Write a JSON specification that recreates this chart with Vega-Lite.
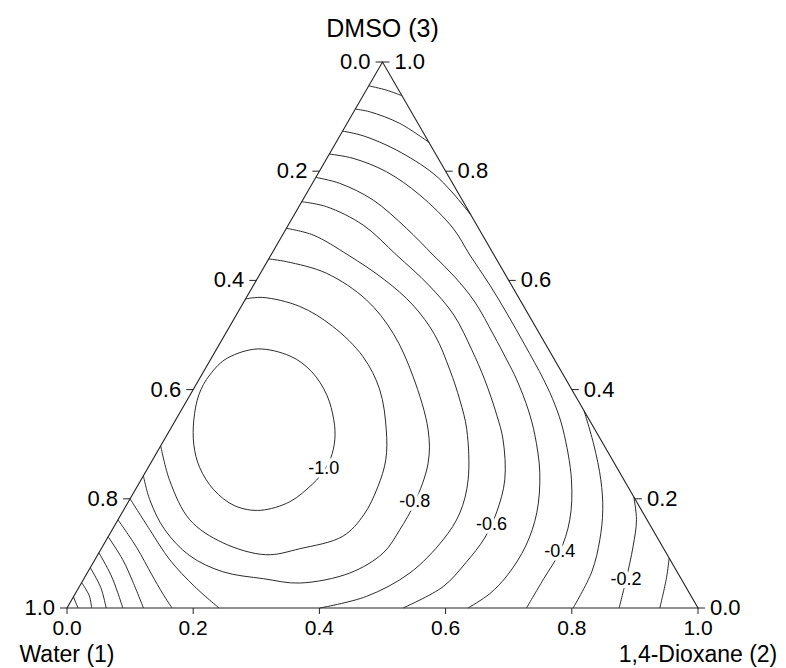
{
  "$schema": "https://vega.github.io/schema/vega-lite/v6.json",
  "width": 631,
  "height": 546,
  "autosize": {"type": "none"},
  "padding": {"left": 67, "top": 62, "right": 88, "bottom": 60},
  "background": "white",
  "config": {"view": {"stroke": null}, "font": "Liberation Sans"},
  "datasets": {
    "frame": [
      {"i": 1, "x": 0, "y": 0},
      {"i": 2, "x": 1, "y": 0},
      {"i": 3, "x": 0.5, "y": 0.866}
    ],
    "oval": [
      {"i": 1, "x": 0.3024, "y": 0.4109},
      {"i": 2, "x": 0.3531, "y": 0.3998},
      {"i": 3, "x": 0.3880, "y": 0.3745},
      {"i": 4, "x": 0.4117, "y": 0.3380},
      {"i": 5, "x": 0.4228, "y": 0.2984},
      {"i": 6, "x": 0.4244, "y": 0.2667},
      {"i": 7, "x": 0.4181, "y": 0.2382},
      {"i": 8, "x": 0.4070, "y": 0.2176},
      {"i": 9, "x": 0.3895, "y": 0.1970},
      {"i": 10, "x": 0.3531, "y": 0.1685},
      {"i": 11, "x": 0.3071, "y": 0.1550},
      {"i": 12, "x": 0.2659, "y": 0.1621},
      {"i": 13, "x": 0.2326, "y": 0.1875},
      {"i": 14, "x": 0.2105, "y": 0.2223},
      {"i": 15, "x": 0.2010, "y": 0.2588},
      {"i": 16, "x": 0.2010, "y": 0.2984},
      {"i": 17, "x": 0.2089, "y": 0.3380},
      {"i": 18, "x": 0.2263, "y": 0.3697},
      {"i": 19, "x": 0.2548, "y": 0.3967}
    ],
    "contours": [
      {"curve": "-0.9", "i": 1, "x": 0.2830, "y": 0.4902},
      {"curve": "-0.9", "i": 2, "x": 0.3103, "y": 0.4926},
      {"curve": "-0.9", "i": 3, "x": 0.3689, "y": 0.4783},
      {"curve": "-0.9", "i": 4, "x": 0.4212, "y": 0.4466},
      {"curve": "-0.9", "i": 5, "x": 0.4688, "y": 0.3990},
      {"curve": "-0.9", "i": 6, "x": 0.4957, "y": 0.3460},
      {"curve": "-0.9", "i": 7, "x": 0.5060, "y": 0.2826},
      {"curve": "-0.9", "i": 8, "x": 0.5052, "y": 0.2350},
      {"curve": "-0.9", "i": 9, "x": 0.4926, "y": 0.1922},
      {"curve": "-0.9", "i": 10, "x": 0.4704, "y": 0.1479},
      {"curve": "-0.9", "i": 11, "x": 0.4371, "y": 0.1138},
      {"curve": "-0.9", "i": 12, "x": 0.3689, "y": 0.0940},
      {"curve": "-0.9", "i": 13, "x": 0.3151, "y": 0.0845},
      {"curve": "-0.9", "i": 14, "x": 0.2469, "y": 0.1035},
      {"curve": "-0.9", "i": 15, "x": 0.1946, "y": 0.1399},
      {"curve": "-0.9", "i": 16, "x": 0.1629, "y": 0.2017},
      {"curve": "-0.9", "i": 17, "x": 0.1485, "y": 0.2572},

      {"curve": "-0.8", "i": 1, "x": 0.3196, "y": 0.5536},
      {"curve": "-0.8", "i": 2, "x": 0.3479, "y": 0.5493},
      {"curve": "-0.8", "i": 3, "x": 0.4113, "y": 0.5309},
      {"curve": "-0.8", "i": 4, "x": 0.4746, "y": 0.4886},
      {"curve": "-0.8", "i": 5, "x": 0.5168, "y": 0.4358},
      {"curve": "-0.8", "i": 6, "x": 0.5485, "y": 0.3670},
      {"curve": "-0.8", "i": 7, "x": 0.5723, "y": 0.2826},
      {"curve": "-0.8", "i": 8, "x": 0.5723, "y": 0.2298},
      {"curve": "-0.8", "i": 9, "x": 0.5512, "y": 0.1674},
      {"curve": "-0.8", "i": 10, "x": 0.5274, "y": 0.1241},
      {"curve": "-0.8", "i": 11, "x": 0.5010, "y": 0.0872},
      {"curve": "-0.8", "i": 12, "x": 0.4482, "y": 0.0555},
      {"curve": "-0.8", "i": 13, "x": 0.3689, "y": 0.0396},
      {"curve": "-0.8", "i": 14, "x": 0.3119, "y": 0.0464},
      {"curve": "-0.8", "i": 15, "x": 0.2469, "y": 0.0575},
      {"curve": "-0.8", "i": 16, "x": 0.1946, "y": 0.0829},
      {"curve": "-0.8", "i": 17, "x": 0.1550, "y": 0.1241},
      {"curve": "-0.8", "i": 18, "x": 0.1312, "y": 0.1716},
      {"curve": "-0.8", "i": 19, "x": 0.1211, "y": 0.2097},

      {"curve": "-0.7a", "i": 1, "x": 0.3477, "y": 0.6022},
      {"curve": "-0.7a", "i": 2, "x": 0.3900, "y": 0.5916},
      {"curve": "-0.7a", "i": 3, "x": 0.4455, "y": 0.5599},
      {"curve": "-0.7a", "i": 4, "x": 0.5036, "y": 0.5203},
      {"curve": "-0.7a", "i": 5, "x": 0.5480, "y": 0.4807},
      {"curve": "-0.7a", "i": 6, "x": 0.5829, "y": 0.4331},
      {"curve": "-0.7a", "i": 7, "x": 0.6067, "y": 0.3777},
      {"curve": "-0.7a", "i": 8, "x": 0.6225, "y": 0.3301},
      {"curve": "-0.7a", "i": 9, "x": 0.6336, "y": 0.2826},
      {"curve": "-0.7a", "i": 10, "x": 0.6357, "y": 0.2033},
      {"curve": "-0.7a", "i": 11, "x": 0.6225, "y": 0.1506},
      {"curve": "-0.7a", "i": 12, "x": 0.5960, "y": 0.1082},
      {"curve": "-0.7a", "i": 13, "x": 0.5433, "y": 0.0555},
      {"curve": "-0.7a", "i": 14, "x": 0.4746, "y": 0.0184},
      {"curve": "-0.7a", "i": 15, "x": 0.4006, "y": 0},

      {"curve": "-0.6a", "i": 1, "x": 0.3720, "y": 0.6444},
      {"curve": "-0.6a", "i": 2, "x": 0.4113, "y": 0.6365},
      {"curve": "-0.6a", "i": 3, "x": 0.4693, "y": 0.6074},
      {"curve": "-0.6a", "i": 4, "x": 0.5222, "y": 0.5599},
      {"curve": "-0.6a", "i": 5, "x": 0.5730, "y": 0.5124},
      {"curve": "-0.6a", "i": 6, "x": 0.6130, "y": 0.4648},
      {"curve": "-0.6a", "i": 7, "x": 0.6415, "y": 0.4094},
      {"curve": "-0.6a", "i": 8, "x": 0.6621, "y": 0.3618},
      {"curve": "-0.6a", "i": 9, "x": 0.6810, "y": 0.3063},
      {"curve": "-0.6a", "i": 10, "x": 0.6911, "y": 0.2667},
      {"curve": "-0.6a", "i": 11, "x": 0.6938, "y": 0.2033},
      {"curve": "-0.6a", "i": 12, "x": 0.6811, "y": 0.1526},
      {"curve": "-0.6a", "i": 13, "x": 0.6621, "y": 0.1114},
      {"curve": "-0.6a", "i": 14, "x": 0.6320, "y": 0.0718},
      {"curve": "-0.6a", "i": 15, "x": 0.5960, "y": 0.0338},
      {"curve": "-0.6a", "i": 16, "x": 0.5326, "y": 0},

      {"curve": "-0.5a", "i": 1, "x": 0.3943, "y": 0.6830},
      {"curve": "-0.5a", "i": 2, "x": 0.4323, "y": 0.6735},
      {"curve": "-0.5a", "i": 3, "x": 0.4851, "y": 0.6471},
      {"curve": "-0.5a", "i": 4, "x": 0.5380, "y": 0.6022},
      {"curve": "-0.5a", "i": 5, "x": 0.5802, "y": 0.5599},
      {"curve": "-0.5a", "i": 6, "x": 0.6146, "y": 0.5250},
      {"curve": "-0.5a", "i": 7, "x": 0.6463, "y": 0.4854},
      {"curve": "-0.5a", "i": 8, "x": 0.6760, "y": 0.4331},
      {"curve": "-0.5a", "i": 9, "x": 0.6970, "y": 0.3935},
      {"curve": "-0.5a", "i": 10, "x": 0.7128, "y": 0.3618},
      {"curve": "-0.5a", "i": 11, "x": 0.7310, "y": 0.3143},
      {"curve": "-0.5a", "i": 12, "x": 0.7414, "y": 0.2746},
      {"curve": "-0.5a", "i": 13, "x": 0.7493, "y": 0.2144},
      {"curve": "-0.5a", "i": 14, "x": 0.7445, "y": 0.1510},
      {"curve": "-0.5a", "i": 15, "x": 0.7271, "y": 0.0987},
      {"curve": "-0.5a", "i": 16, "x": 0.6986, "y": 0.0528},
      {"curve": "-0.5a", "i": 17, "x": 0.6700, "y": 0.0227},
      {"curve": "-0.5a", "i": 18, "x": 0.6357, "y": 0},

      {"curve": "-0.4a", "i": 1, "x": 0.4157, "y": 0.7200},
      {"curve": "-0.4a", "i": 2, "x": 0.4534, "y": 0.7132},
      {"curve": "-0.4a", "i": 3, "x": 0.5063, "y": 0.6919},
      {"curve": "-0.4a", "i": 4, "x": 0.5591, "y": 0.6550},
      {"curve": "-0.4a", "i": 5, "x": 0.6119, "y": 0.6022},
      {"curve": "-0.4a", "i": 6, "x": 0.6384, "y": 0.5599},
      {"curve": "-0.4a", "i": 7, "x": 0.6700, "y": 0.5124},
      {"curve": "-0.4a", "i": 8, "x": 0.6986, "y": 0.4648},
      {"curve": "-0.4a", "i": 9, "x": 0.7255, "y": 0.4173},
      {"curve": "-0.4a", "i": 10, "x": 0.7556, "y": 0.3618},
      {"curve": "-0.4a", "i": 11, "x": 0.7734, "y": 0.3222},
      {"curve": "-0.4a", "i": 12, "x": 0.7862, "y": 0.2826},
      {"curve": "-0.4a", "i": 13, "x": 0.7995, "y": 0.2033},
      {"curve": "-0.4a", "i": 14, "x": 0.7968, "y": 0.1399},
      {"curve": "-0.4a", "i": 15, "x": 0.7810, "y": 0.0892},
      {"curve": "-0.4a", "i": 16, "x": 0.7545, "y": 0.0448},
      {"curve": "-0.4a", "i": 17, "x": 0.7282, "y": 0},

      {"curve": "-0.3a", "i": 1, "x": 0.4367, "y": 0.7564},
      {"curve": "-0.3a", "i": 2, "x": 0.4693, "y": 0.7490},
      {"curve": "-0.3a", "i": 3, "x": 0.5222, "y": 0.7263},
      {"curve": "-0.3a", "i": 4, "x": 0.5802, "y": 0.6894},
      {"curve": "-0.3a", "i": 5, "x": 0.6114, "y": 0.6582},
      {"curve": "-0.3a", "i": 6, "x": 0.6401, "y": 0.6233},

      {"curve": "-0.2a", "i": 1, "x": 0.4569, "y": 0.7913},
      {"curve": "-0.2a", "i": 2, "x": 0.4799, "y": 0.7870},
      {"curve": "-0.2a", "i": 3, "x": 0.5274, "y": 0.7686},
      {"curve": "-0.2a", "i": 4, "x": 0.5736, "y": 0.7385},

      {"curve": "-0.1a", "i": 1, "x": 0.4782, "y": 0.8282},
      {"curve": "-0.1a", "i": 2, "x": 0.5063, "y": 0.8214},
      {"curve": "-0.1a", "i": 3, "x": 0.5310, "y": 0.8124},

      {"curve": "-0.3b", "i": 1, "x": 0.8195, "y": 0.3127},
      {"curve": "-0.3b", "i": 2, "x": 0.8349, "y": 0.2588},
      {"curve": "-0.3b", "i": 3, "x": 0.8460, "y": 0.2033},
      {"curve": "-0.3b", "i": 4, "x": 0.8491, "y": 0.1558},
      {"curve": "-0.3b", "i": 5, "x": 0.8444, "y": 0.1082},
      {"curve": "-0.3b", "i": 6, "x": 0.8317, "y": 0.0575},
      {"curve": "-0.3b", "i": 7, "x": 0.8021, "y": 0},

      {"curve": "-0.2b", "i": 1, "x": 0.8982, "y": 0.1764},
      {"curve": "-0.2b", "i": 2, "x": 0.9025, "y": 0.1399},
      {"curve": "-0.2b", "i": 3, "x": 0.8971, "y": 0.0976},
      {"curve": "-0.2b", "i": 4, "x": 0.8860, "y": 0.0448},
      {"curve": "-0.2b", "i": 5, "x": 0.8750, "y": 0},

      {"curve": "-0.1b", "i": 1, "x": 0.9543, "y": 0.0792},
      {"curve": "-0.1b", "i": 2, "x": 0.9501, "y": 0.0480},
      {"curve": "-0.1b", "i": 3, "x": 0.9395, "y": 0},

      {"curve": "-0.7c", "i": 1, "x": 0.1000, "y": 0.1732},
      {"curve": "-0.7c", "i": 2, "x": 0.1312, "y": 0.1241},
      {"curve": "-0.7c", "i": 3, "x": 0.1629, "y": 0.0765},
      {"curve": "-0.7c", "i": 4, "x": 0.2025, "y": 0.0338},
      {"curve": "-0.7c", "i": 5, "x": 0.2409, "y": 0},

      {"curve": "-0.6c", "i": 1, "x": 0.0808, "y": 0.1399},
      {"curve": "-0.6c", "i": 2, "x": 0.1106, "y": 0.0956},
      {"curve": "-0.6c", "i": 3, "x": 0.1344, "y": 0.0528},
      {"curve": "-0.6c", "i": 4, "x": 0.1518, "y": 0.0227},
      {"curve": "-0.6c", "i": 5, "x": 0.1664, "y": 0},

      {"curve": "-0.5c", "i": 1, "x": 0.0652, "y": 0.1130},
      {"curve": "-0.5c", "i": 2, "x": 0.0884, "y": 0.0765},
      {"curve": "-0.5c", "i": 3, "x": 0.1043, "y": 0.0417},
      {"curve": "-0.5c", "i": 4, "x": 0.1212, "y": 0},

      {"curve": "-0.4c", "i": 1, "x": 0.0506, "y": 0.0876},
      {"curve": "-0.4c", "i": 2, "x": 0.0694, "y": 0.0528},
      {"curve": "-0.4c", "i": 3, "x": 0.0805, "y": 0.0242},
      {"curve": "-0.4c", "i": 4, "x": 0.0884, "y": 0},

      {"curve": "-0.3c", "i": 1, "x": 0.0369, "y": 0.0639},
      {"curve": "-0.3c", "i": 2, "x": 0.0536, "y": 0.0322},
      {"curve": "-0.3c", "i": 3, "x": 0.0621, "y": 0},

      {"curve": "-0.2c", "i": 1, "x": 0.0232, "y": 0.0401},
      {"curve": "-0.2c", "i": 2, "x": 0.0353, "y": 0.0195},
      {"curve": "-0.2c", "i": 3, "x": 0.0390, "y": 0},

      {"curve": "-0.1c", "i": 1, "x": 0.0103, "y": 0.0179},
      {"curve": "-0.1c", "i": 2, "x": 0.0139, "y": 0.0084},
      {"curve": "-0.1c", "i": 3, "x": 0.0176, "y": 0}
    ],
    "ticks": [
      {"side": "bottom", "label": "0.0", "x": 0.0, "y": 0},
      {"side": "bottom", "label": "0.2", "x": 0.2, "y": 0},
      {"side": "bottom", "label": "0.4", "x": 0.4, "y": 0},
      {"side": "bottom", "label": "0.6", "x": 0.6, "y": 0},
      {"side": "bottom", "label": "0.8", "x": 0.8, "y": 0},
      {"side": "bottom", "label": "1.0", "x": 1.0, "y": 0},
      {"side": "left", "label": "0.0", "x": 0.5, "y": 0.866},
      {"side": "left", "label": "0.2", "x": 0.4, "y": 0.6928},
      {"side": "left", "label": "0.4", "x": 0.3, "y": 0.5196},
      {"side": "left", "label": "0.6", "x": 0.2, "y": 0.3464},
      {"side": "left", "label": "0.8", "x": 0.1, "y": 0.1732},
      {"side": "left", "label": "1.0", "x": 0.0, "y": 0},
      {"side": "right", "label": "0.0", "x": 1.0, "y": 0},
      {"side": "right", "label": "0.2", "x": 0.9, "y": 0.1732},
      {"side": "right", "label": "0.4", "x": 0.8, "y": 0.3464},
      {"side": "right", "label": "0.6", "x": 0.7, "y": 0.5196},
      {"side": "right", "label": "0.8", "x": 0.6, "y": 0.6928},
      {"side": "right", "label": "1.0", "x": 0.5, "y": 0.866}
    ],
    "titles": [
      {"pos": "top", "name": "DMSO (3)", "x": 0.5, "y": 0.866},
      {"pos": "bottom", "name": "Water (1)", "x": 0.0, "y": 0},
      {"pos": "bottom", "name": "1,4-Dioxane (2)", "x": 1.0, "y": 0}
    ],
    "clabels": [
      {"label": "-1.0", "x": 0.4070, "y": 0.2208},
      {"label": "-0.8", "x": 0.5512, "y": 0.1674},
      {"label": "-0.6", "x": 0.6727, "y": 0.1309},
      {"label": "-0.4", "x": 0.7810, "y": 0.0892},
      {"label": "-0.2", "x": 0.8860, "y": 0.0440}
    ]
  },
  "encoding": {
    "x": {"field": "x", "type": "quantitative", "scale": {"domain": [0, 1], "nice": false, "zero": false}, "axis": null},
    "y": {"field": "y", "type": "quantitative", "scale": {"domain": [0, 0.866], "nice": false, "zero": false}, "axis": null}
  },
  "layer": [
    {
      "data": {"name": "contours"},
      "mark": {"type": "line", "interpolate": "catmull-rom", "stroke": "#2b2b2b", "strokeWidth": 1},
      "encoding": {
        "detail": {"field": "curve"},
        "order": {"field": "i", "type": "quantitative"}
      }
    },
    {
      "data": {"name": "oval"},
      "mark": {"type": "line", "interpolate": "cardinal-closed", "stroke": "#2b2b2b", "strokeWidth": 1},
      "encoding": {"order": {"field": "i", "type": "quantitative"}}
    },
    {
      "data": {"name": "frame"},
      "mark": {"type": "line", "interpolate": "linear-closed", "stroke": "#222222", "strokeWidth": 1.1},
      "encoding": {"order": {"field": "i", "type": "quantitative"}}
    },
    {
      "data": {"name": "clabels"},
      "mark": {"type": "text", "fontSize": 18, "stroke": "white", "strokeWidth": 7, "strokeJoin": "round", "fill": "white", "baseline": "middle", "align": "center"},
      "encoding": {"text": {"field": "label"}}
    },
    {
      "data": {"name": "clabels"},
      "mark": {"type": "text", "fontSize": 18, "fill": "black", "baseline": "middle", "align": "center"},
      "encoding": {"text": {"field": "label"}}
    },
    {
      "data": {"name": "ticks"},
      "transform": [{"filter": "datum.side === 'bottom'"}],
      "mark": {"type": "point", "shape": "M0,0V1", "size": 144, "filled": false, "stroke": "#222222", "strokeWidth": 1, "opacity": 1}
    },
    {
      "data": {"name": "ticks"},
      "transform": [{"filter": "datum.side === 'left'"}],
      "mark": {"type": "point", "shape": "M0,0H-1", "size": 196, "filled": false, "stroke": "#222222", "strokeWidth": 1, "opacity": 1}
    },
    {
      "data": {"name": "ticks"},
      "transform": [{"filter": "datum.side === 'right'"}],
      "mark": {"type": "point", "shape": "M0,0H1", "size": 196, "filled": false, "stroke": "#222222", "strokeWidth": 1, "opacity": 1}
    },
    {
      "data": {"name": "ticks"},
      "transform": [{"filter": "datum.side === 'bottom'"}],
      "mark": {"type": "text", "fontSize": 21, "align": "center", "baseline": "middle", "dy": 21, "fill": "black"},
      "encoding": {"text": {"field": "label"}}
    },
    {
      "data": {"name": "ticks"},
      "transform": [{"filter": "datum.side === 'left'"}],
      "mark": {"type": "text", "fontSize": 22, "align": "right", "baseline": "middle", "dx": -12, "fill": "black"},
      "encoding": {"text": {"field": "label"}}
    },
    {
      "data": {"name": "ticks"},
      "transform": [{"filter": "datum.side === 'right'"}],
      "mark": {"type": "text", "fontSize": 22, "align": "left", "baseline": "middle", "dx": 12, "fill": "black"},
      "encoding": {"text": {"field": "label"}}
    },
    {
      "data": {"name": "titles"},
      "transform": [{"filter": "datum.pos === 'top'"}],
      "mark": {"type": "text", "fontSize": 25, "align": "center", "baseline": "middle", "dy": -33, "fill": "black"},
      "encoding": {"text": {"field": "name"}}
    },
    {
      "data": {"name": "titles"},
      "transform": [{"filter": "datum.pos === 'bottom'"}],
      "mark": {"type": "text", "fontSize": 23, "align": "center", "baseline": "middle", "dy": 47, "fill": "black"},
      "encoding": {"text": {"field": "name"}}
    }
  ]
}
